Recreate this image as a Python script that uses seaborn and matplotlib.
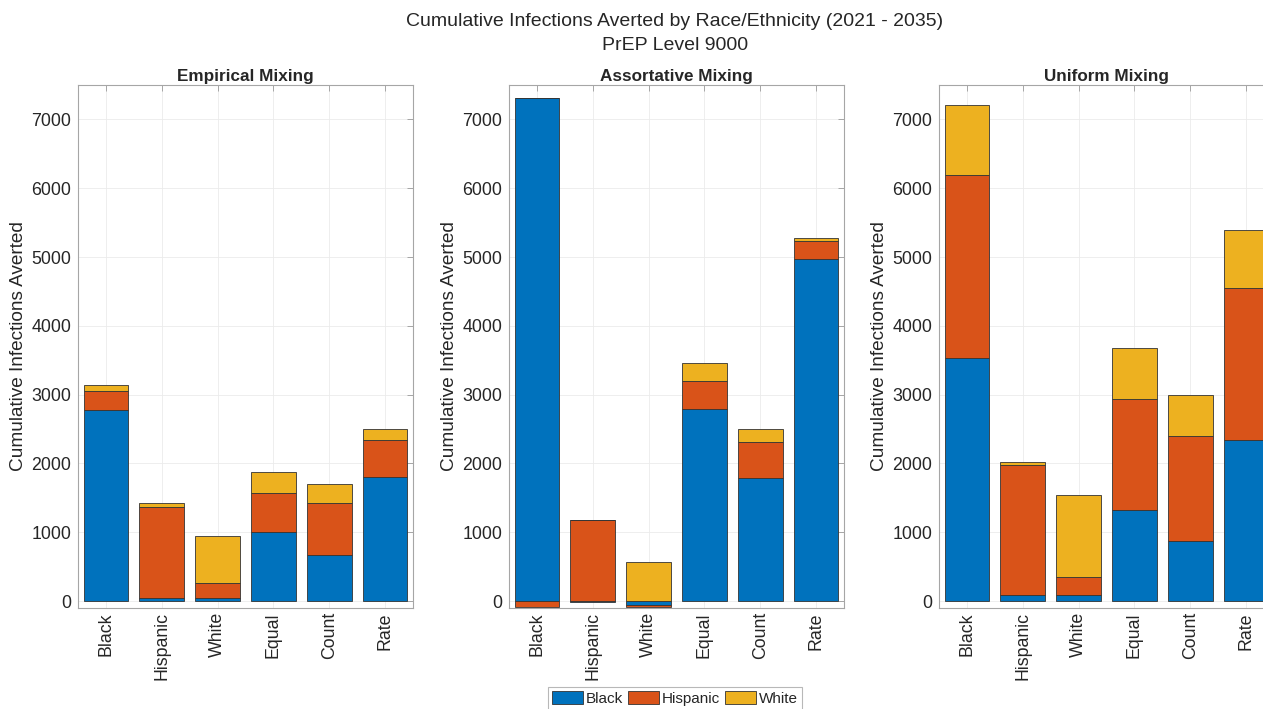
import numpy as np
import matplotlib
matplotlib.use("Agg")
import matplotlib.pyplot as plt
import seaborn as sns

# categories on the x axis of each panel
categories = ['Black', 'Hispanic', 'White', 'Equal', 'Count', 'Rate']
races = ['Black', 'Hispanic', 'White']

# cumulative infections averted, per race
emp_black = [2770, 40, 40, 1000, 665, 1805]
emp_hispanic = [280, 1325, 225, 570, 765, 530]
emp_white = [90, 55, 680, 300, 275, 170]

ass_black = [7310, -10, -55, 2785, 1795, 4965]
ass_hispanic = [-90, 1185, -30, 420, 515, 270]
ass_white = [5, 0, 570, 250, 185, 35]

uni_black = [3540, 85, 85, 1325, 875, 2335]
uni_hispanic = [2655, 1890, 270, 1610, 1520, 2210]
uni_white = [1010, 50, 1185, 740, 595, 845]

panels = [
    ('Empirical Mixing', [emp_black, emp_hispanic, emp_white]),
    ('Assortative Mixing', [ass_black, ass_hispanic, ass_white]),
    ('Uniform Mixing', [uni_black, uni_hispanic, uni_white]),
]

# matlab default colours
colors = ['#0072BD', '#D95319', '#EDB120']

sns.set_style("white")
plt.rcParams['font.family'] = ['Liberation Sans', 'DejaVu Sans']
plt.rcParams['xtick.direction'] = 'in'
plt.rcParams['ytick.direction'] = 'in'

W, H = 1263, 709
fig = plt.figure(figsize=(W / 100, H / 100), dpi=100)

lefts = [78, 509, 939]
top_px, bottom_px, width_px = 85, 608, 335

for (title, series), left in zip(panels, lefts):
    ax = fig.add_axes([left / W, 1 - bottom_px / H, width_px / W, (bottom_px - top_px) / H])
    pos_cum = np.zeros(len(categories))
    neg_cum = np.zeros(len(categories))
    # stacked bars, negatives stack downward from zero (like matlab)
    for vals, col, name in zip(series, colors, races):
        v = np.array(vals, dtype=float)
        bottoms = np.where(v >= 0, pos_cum, neg_cum)
        sns.barplot(x=categories, y=v, bottom=bottoms, color=col, saturation=1,
                    width=0.8, edgecolor='#333333', linewidth=0.6, errorbar=None,
                    label=name, ax=ax)
        pos_cum = pos_cum + np.clip(v, 0, None)
        neg_cum = neg_cum + np.clip(v, None, 0)

    if ax.get_legend() is not None:
        ax.get_legend().remove()
    ax.set_ylim(-100, 7500)
    ax.set_xlim(-0.5, 5.5)
    ax.set_yticks(range(0, 7001, 1000))
    ax.set_xticks(range(len(categories)))
    ax.set_xticklabels(categories, rotation=90)
    ax.grid(True, color='#ebebeb', linewidth=0.6)
    ax.set_axisbelow(True)
    ax.tick_params(axis='both', labelsize=12.8, labelcolor='#262626', color='#9a9a9a',
                   length=4, width=0.6, top=True, right=True)
    ax.tick_params(axis='x', pad=3)
    ax.tick_params(axis='y', pad=5)
    for sp in ax.spines.values():
        sp.set_color('#a6a6a6')
        sp.set_linewidth(0.8)
    ax.set_title(title, fontsize=12.3, fontweight='bold', pad=3)
    ax.set_ylabel('Cumulative Infections Averted', fontsize=13.7, color='#262626')
    ax.yaxis.set_label_coords(-0.152, 0.5)
    ax.set_xlabel('')
    if left == lefts[0]:
        handles, labels = ax.get_legend_handles_labels()

fig.text(675 / W, 1 - 22 / H, 'Cumulative Infections Averted by Race/Ethnicity (2021 - 2035)',
         ha='center', va='center', fontsize=14, color='#262626')
fig.text(675 / W, 1 - 45 / H, 'PrEP Level 9000',
         ha='center', va='center', fontsize=14, color='#262626')

leg = fig.legend(handles, labels, loc='upper center', bbox_to_anchor=(675 / W, 1 - 687 / H),
                 ncol=3, fontsize=11, frameon=True, fancybox=False, handlelength=2.0,
                 handleheight=1.0, handletextpad=0.2, columnspacing=0.35,
                 borderpad=0.25, borderaxespad=0)
leg.get_frame().set_edgecolor('#a6a6a6')
leg.get_frame().set_linewidth(0.8)

fig.savefig('out.png', dpi=100)
